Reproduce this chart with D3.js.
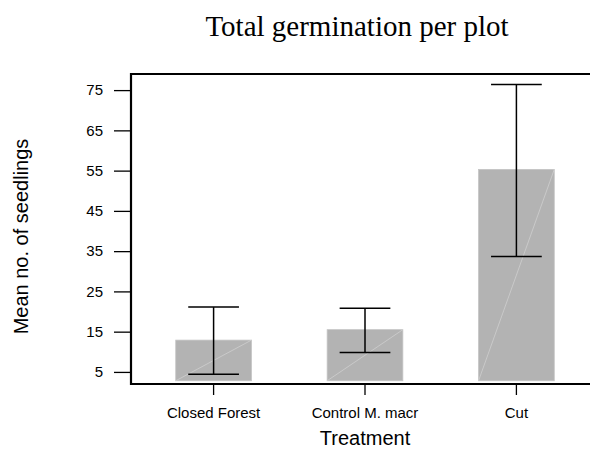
<!DOCTYPE html>
<html>
<head>
<meta charset="utf-8">
<script src="https://cdn.jsdelivr.net/npm/d3@7"></script>
<style>
  html, body { margin: 0; padding: 0; background: #fff; }
  svg { display: block; }
</style>
</head>
<body>
<script>
// ---- data ----
const categories = ["Closed Forest", "Control M. macr", "Cut"];
const means = [12.9, 15.5, 55.3];
const lower = [4.4, 9.8, 33.7];
const upper = [21.1, 20.8, 76.4];
const yTicks = [5, 15, 25, 35, 45, 55, 65, 75];
const barBase = 2.8;
const titleText = "Total germination per plot";
const xLabel = "Treatment";
const yLabel = "Mean no. of seedlings";

// ---- layout ----
const W = 590, H = 449;
const mLeft = 131, mTop = 74, mBottom = 384, mRight = 599;

const svg = d3.select("body").append("svg")
  .attr("width", W).attr("height", H)
  .style("font-family", "'Liberation Sans', Arial, sans-serif");

const x = d3.scaleBand().domain(categories).range([mLeft, mRight])
  .paddingInner(0.5).paddingOuter(0.2955);
const y = d3.scaleLinear().domain([2, 79]).range([mBottom, mTop]);

// bars
const bars = svg.append("g");
categories.forEach((c, i) => {
  const x0 = x(c), bw = x.bandwidth();
  bars.append("rect")
    .attr("x", x0).attr("y", y(means[i]))
    .attr("width", bw).attr("height", y(barBase) - y(means[i]))
    .attr("fill", "#b3b3b3")
    .attr("stroke", "#c4c4c4").attr("stroke-width", 0.8);
  bars.append("line")
    .attr("x1", x0).attr("y1", y(barBase))
    .attr("x2", x0 + bw).attr("y2", y(means[i]))
    .attr("stroke", "#d2d2d2").attr("stroke-width", 0.7);
});

// error bars
const eb = svg.append("g").attr("stroke", "#000").attr("stroke-width", 1.5);
categories.forEach((c, i) => {
  const cx = x(c) + x.bandwidth() / 2;
  const hw = x.bandwidth() * 0.335;
  eb.append("line").attr("x1", cx).attr("x2", cx).attr("y1", y(lower[i])).attr("y2", y(upper[i]));
  eb.append("line").attr("x1", cx - hw).attr("x2", cx + hw).attr("y1", y(upper[i])).attr("y2", y(upper[i]));
  eb.append("line").attr("x1", cx - hw).attr("x2", cx + hw).attr("y1", y(lower[i])).attr("y2", y(lower[i]));
});

// y axis
const yAxis = svg.append("g").attr("transform", `translate(${mLeft},0)`)
  .call(d3.axisLeft(y).tickValues(yTicks).tickSize(17).tickPadding(11));
yAxis.select(".domain").remove();
yAxis.selectAll(".tick line").attr("stroke", "#000").attr("stroke-width", 1.3);
yAxis.selectAll(".tick text").attr("font-size", 15).attr("fill", "#000")
  .style("font-family", "'Liberation Sans', Arial, sans-serif");

// x axis
const xAxis = svg.append("g").attr("transform", `translate(0,${mBottom})`)
  .call(d3.axisBottom(x).tickSize(11).tickPadding(12));
xAxis.select(".domain").remove();
xAxis.selectAll(".tick line").attr("stroke", "#000").attr("stroke-width", 1.3);
xAxis.selectAll(".tick text").attr("font-size", 15).attr("fill", "#000")
  .style("font-family", "'Liberation Sans', Arial, sans-serif");

// frame (left, top, bottom)
svg.append("path")
  .attr("d", `M${mRight},${mTop}H${mLeft}V${mBottom}H${mRight}`)
  .attr("fill", "none").attr("stroke", "#000").attr("stroke-width", 2.2);

// title
svg.append("text")
  .attr("x", 357).attr("y", 36)
  .attr("text-anchor", "middle")
  .style("font-family", "'Liberation Serif', 'Times New Roman', serif")
  .attr("font-size", 29)
  .text(titleText);

// x label
svg.append("text")
  .attr("x", 365).attr("y", 445)
  .attr("text-anchor", "middle")
  .attr("font-size", 20)
  .text(xLabel);

// y label
svg.append("text")
  .attr("transform", "translate(27.5,236.5) rotate(-90)")
  .attr("text-anchor", "middle")
  .attr("font-size", 20)
  .text(yLabel);
</script>
</body>
</html>
